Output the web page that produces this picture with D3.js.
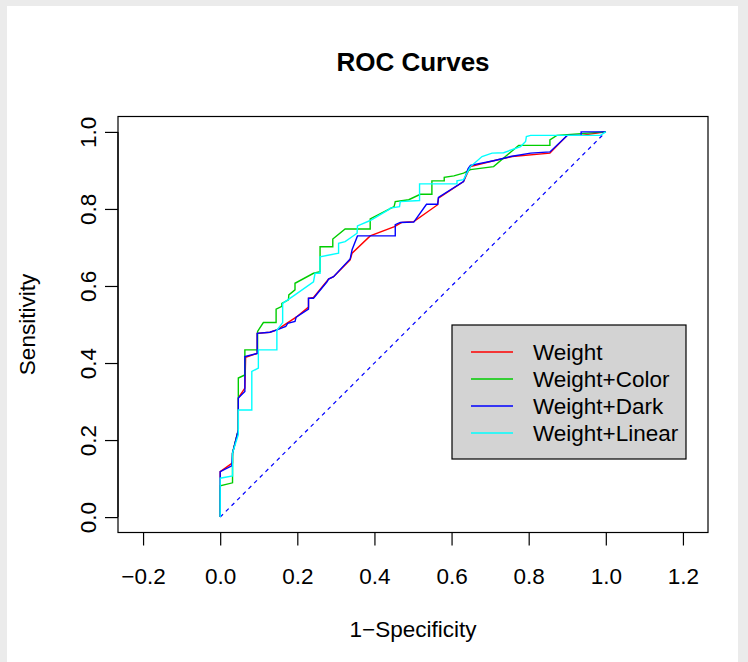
<!DOCTYPE html>
<html>
<head>
<meta charset="utf-8">
<script src="https://cdn.jsdelivr.net/npm/d3@7"></script>
<style>
  html, body { margin: 0; padding: 0; background: #ebebeb; }
  svg { display: block; }
  text { font-family: "Liberation Sans", Arial, Helvetica, sans-serif; fill: #000; }
</style>
</head>
<body>
<svg id="chart" width="748" height="662"></svg>
<script>
// ---------- data ----------
const categories = ["Weight", "Weight+Color", "Weight+Dark", "Weight+Linear"];
const seriesColors = ["#FF0000", "#00CD00", "#0000FF", "#00FFFF"];

const weightFpr = [0,0,0.032,0.032,0.047,0.047,0.064,0.066,0.096,0.096,0.129,0.147,0.197,0.229,0.229,0.242,0.281,0.294,0.337,0.342,0.389,0.452,0.471,0.502,0.564,0.566,0.631,0.649,0.709,0.757,0.855,0.900,0.936,1];
const weightTpr = [0,0.118,0.141,0.166,0.226,0.309,0.335,0.415,0.425,0.477,0.480,0.486,0.519,0.545,0.568,0.570,0.618,0.624,0.668,0.685,0.730,0.754,0.765,0.767,0.811,0.828,0.871,0.910,0.925,0.936,0.945,0.991,0.991,1];

const colorFpr = [0,0,0.032,0.032,0.047,0.047,0.064,0.064,0.097,0.097,0.112,0.145,0.145,0.160,0.160,0.177,0.178,0.194,0.194,0.242,0.259,0.259,0.292,0.292,0.324,0.389,0.389,0.437,0.451,0.454,0.489,0.519,0.549,0.549,0.581,0.581,0.606,0.631,0.649,0.709,0.774,0.855,0.855,0.873,1];
const colorTpr = [0,0.081,0.089,0.166,0.226,0.361,0.369,0.434,0.434,0.482,0.505,0.505,0.540,0.547,0.555,0.564,0.577,0.590,0.607,0.633,0.637,0.702,0.702,0.722,0.748,0.748,0.774,0.799,0.806,0.819,0.824,0.838,0.838,0.873,0.873,0.882,0.886,0.893,0.902,0.910,0.965,0.965,0.979,0.991,1];

const darkFpr = [0,0,0.030,0.032,0.047,0.047,0.064,0.064,0.096,0.096,0.129,0.147,0.170,0.175,0.194,0.197,0.229,0.229,0.242,0.277,0.281,0.294,0.337,0.342,0.356,0.454,0.454,0.467,0.502,0.535,0.564,0.566,0.631,0.643,0.649,0.709,0.753,0.805,0.855,0.900,0.936,0.936,1];
const darkTpr = [0,0.118,0.133,0.166,0.226,0.309,0.326,0.417,0.425,0.477,0.480,0.486,0.495,0.503,0.508,0.519,0.540,0.568,0.568,0.611,0.618,0.624,0.670,0.694,0.730,0.730,0.759,0.765,0.766,0.812,0.812,0.830,0.871,0.905,0.913,0.925,0.936,0.945,0.948,0.991,0.991,1.0,1];

const linearFpr = [0,0,0.032,0.032,0.047,0.047,0.082,0.082,0.099,0.099,0.147,0.147,0.162,0.162,0.194,0.242,0.246,0.259,0.259,0.307,0.307,0.324,0.355,0.356,0.389,0.437,0.441,0.465,0.467,0.517,0.517,0.614,0.614,0.631,0.649,0.679,0.705,0.735,0.779,0.792,0.794,0.805,0.986,1];
const linearTpr = [0,0.101,0.107,0.166,0.214,0.278,0.278,0.378,0.387,0.434,0.434,0.485,0.505,0.555,0.577,0.611,0.633,0.633,0.676,0.685,0.711,0.715,0.737,0.756,0.770,0.798,0.802,0.806,0.819,0.822,0.865,0.865,0.873,0.876,0.910,0.936,0.945,0.946,0.962,0.975,0.988,0.991,0.991,1];

const diagonal = [0, 1];
const xTicks = [-0.2, 0.0, 0.2, 0.4, 0.6, 0.8, 1.0, 1.2];
const yTicks = [0.0, 0.2, 0.4, 0.6, 0.8, 1.0];

const titleText = "ROC Curves";
const xLabel = "1\u2212Specificity";
const yLabel = "Sensitivity";

// ---------- layout ----------
const svg = d3.select("#chart");
svg.append("rect").attr("x", 7).attr("y", 6).attr("width", 731).attr("height", 656).attr("fill", "#ffffff");

const plot = { left: 118, right: 708, top: 116.5, bottom: 532.5 };
const x = d3.scaleLinear().domain([-0.265, 1.265]).range([plot.left, plot.right]);
const y = d3.scaleLinear().domain([-0.04, 1.04]).range([plot.bottom, plot.top]);

const fontSize = 22.5;
const fmt = v => d3.format(".1f")(v);

// diagonal reference
const line = d3.line().x(d => x(d[0])).y(d => y(d[1]));
svg.append("path")
  .attr("d", line(diagonal.map((v, i) => [diagonal[i], diagonal[i]])))
  .attr("fill", "none").attr("stroke", "#0000FF").attr("stroke-width", 1.2)
  .attr("stroke-dasharray", "4,4");

// curves
const series = [
  [weightFpr, weightTpr],
  [colorFpr, colorTpr],
  [darkFpr, darkTpr],
  [linearFpr, linearTpr]
];
series.forEach((s, i) => {
  const pts = s[0].map((fx, j) => [fx, s[1][j]]);
  svg.append("path")
    .attr("d", line(pts))
    .attr("fill", "none")
    .attr("stroke", seriesColors[i])
    .attr("stroke-width", 1.4)
    .attr("stroke-linejoin", "miter");
});

// box
svg.append("rect")
  .attr("x", plot.left).attr("y", plot.top)
  .attr("width", plot.right - plot.left).attr("height", plot.bottom - plot.top)
  .attr("fill", "none").attr("stroke", "#000").attr("stroke-width", 1.2);

// axes
const xAxis = svg.append("g")
  .attr("transform", `translate(0,${plot.bottom})`)
  .call(d3.axisBottom(x).tickValues(xTicks).tickFormat(fmt).tickSize(13).tickSizeOuter(0));
xAxis.select(".domain").attr("d", `M${x(xTicks[0])},0H${x(xTicks[xTicks.length - 1])}`).attr("stroke-width", 1.2);
xAxis.selectAll(".tick line").attr("stroke-width", 1.2);
xAxis.selectAll(".tick text")
  .attr("y", 0).attr("dy", null)
  .attr("transform", "translate(0,51)")
  .style("font-size", fontSize + "px")
  .style("font-family", "'Liberation Sans', Arial, sans-serif")
  .attr("fill", "#000");

const yAxis = svg.append("g")
  .attr("transform", `translate(${plot.left},0)`)
  .call(d3.axisLeft(y).tickValues(yTicks).tickFormat(fmt).tickSize(13).tickSizeOuter(0));
yAxis.select(".domain").attr("d", `M0,${y(yTicks[0])}V${y(yTicks[yTicks.length - 1])}`).attr("stroke-width", 1.2);
yAxis.selectAll(".tick line").attr("stroke-width", 1.2);
yAxis.selectAll(".tick text")
  .attr("x", 0).attr("dy", null)
  .attr("text-anchor", "middle")
  .attr("transform", "translate(-22,0) rotate(-90)")
  .style("font-size", fontSize + "px")
  .style("font-family", "'Liberation Sans', Arial, sans-serif")
  .attr("fill", "#000");

// title & labels
svg.append("text")
  .attr("x", (plot.left + plot.right) / 2).attr("y", 71)
  .attr("text-anchor", "middle")
  .style("font-size", "26px").style("font-weight", "bold")
  .text(titleText);

svg.append("text")
  .attr("x", (plot.left + plot.right) / 2).attr("y", 637)
  .attr("text-anchor", "middle")
  .style("font-size", fontSize + "px")
  .text(xLabel);

svg.append("text")
  .attr("transform", `translate(35,${(plot.top + plot.bottom) / 2}) rotate(-90)`)
  .attr("text-anchor", "middle")
  .style("font-size", fontSize + "px")
  .text(yLabel);

// legend
const lg = svg.append("g");
lg.append("rect")
  .attr("x", 452).attr("y", 325).attr("width", 234).attr("height", 134)
  .attr("fill", "#D3D3D3").attr("stroke", "#000").attr("stroke-width", 1.2);
categories.forEach((c, i) => {
  const cy = 352 + i * 27;
  lg.append("line")
    .attr("x1", 471).attr("x2", 513).attr("y1", cy).attr("y2", cy)
    .attr("stroke", seriesColors[i]).attr("stroke-width", 1.3);
  lg.append("text")
    .attr("x", 533).attr("y", cy + 8)
    .style("font-size", fontSize + "px")
    .text(c);
});
</script>
</body>
</html>
